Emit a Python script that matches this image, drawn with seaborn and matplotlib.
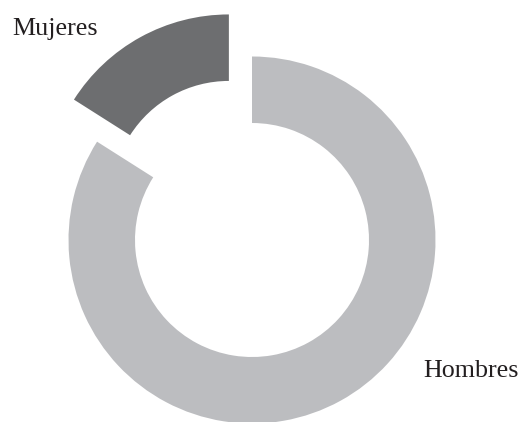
import matplotlib
matplotlib.use("Agg")
import matplotlib.pyplot as plt
import seaborn as sns

# Share of each group
categories = ["Hombres", "Mujeres"]
shares = [84, 16]
colors = ["#bcbdc0", "#6d6e70"]

sns.set_theme(style="white")
plt.rcParams["font.family"] = ["Liberation Serif", "DejaVu Serif"]

W, H = 520, 422
fig = plt.figure(figsize=(W / 100, H / 100), dpi=100)
ax = fig.add_axes([0, 0, 1, 1])

# Pixel-unit axes: 1 data unit = 1 pixel
cx, cy = 252, H - 240
radius = 183.5
ring = 66.5

ax.pie(
    shares,
    colors=colors,
    startangle=90,
    counterclock=False,
    explode=[0, 48],
    radius=radius,
    center=(cx, cy),
    frame=True,
    wedgeprops=dict(width=ring, edgecolor="none", linewidth=0),
)

ax.set_xlim(0, W)
ax.set_ylim(0, H)
ax.set_aspect("equal")
ax.axis("off")

ax.text(12, H - 35, categories[1], ha="left", va="baseline", fontsize=18.7, color="#231f20")
ax.text(423, H - 377, categories[0], ha="left", va="baseline", fontsize=18.7, color="#231f20")

fig.savefig("out.png", dpi=100, facecolor="white")
